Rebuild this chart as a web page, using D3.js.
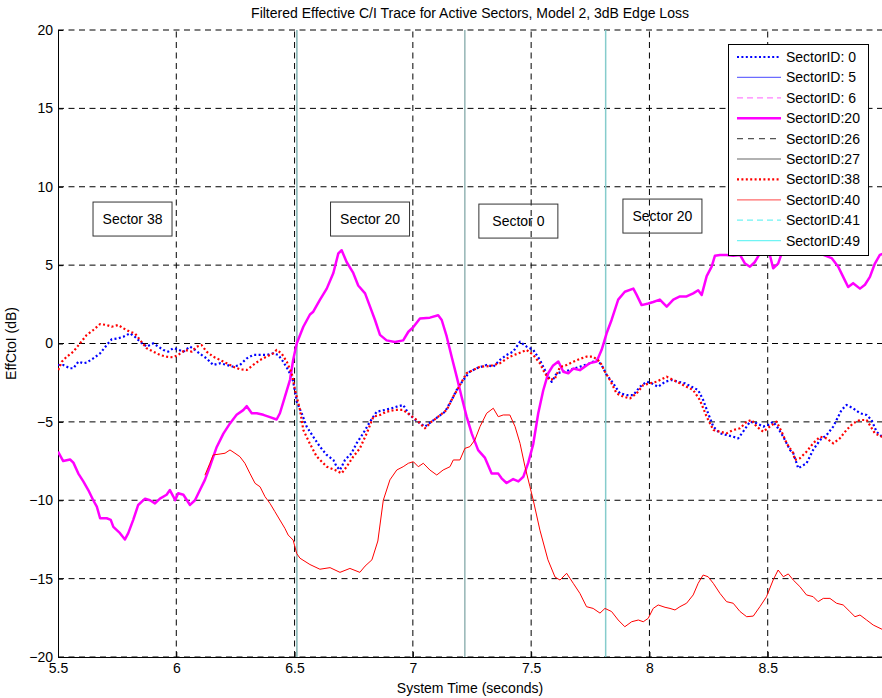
<!DOCTYPE html>
<html>
<head>
<meta charset="utf-8">
<script src="https://cdn.jsdelivr.net/npm/d3@7"></script>
<style>
  html, body { margin: 0; padding: 0; background: #fff; }
  svg { display: block; font-family: "Liberation Sans", Arial, sans-serif; }
</style>
</head>
<body>
<svg id="chart" width="882" height="698"></svg>
<script>
// Filtered effective C/I traces (dB) against system time (s)
const sector0 = [
  [5.500,-1.37],[5.522,-1.37],[5.551,-1.58],[5.565,-1.58],[5.586,-1.16],[5.607,-1.26],[5.621,-1.22],
  [5.649,-0.95],[5.678,-0.63],[5.706,-0.10],[5.727,0.27],[5.755,0.33],[5.776,0.43],[5.804,0.65],
  [5.825,0.43],[5.847,0.11],[5.875,-0.20],[5.903,0.01],[5.924,-0.20],[5.945,-0.41],[5.966,-0.52],
  [5.987,-0.30],[6.002,-0.35],[6.030,-0.52],[6.058,-0.20],[6.079,-0.41],[6.107,-0.73],[6.128,-0.95],
  [6.156,-1.37],[6.185,-1.26],[6.213,-1.37],[6.241,-1.48],[6.269,-1.37],[6.298,-0.95],[6.325,-0.73],
  [6.354,-0.73],[6.382,-0.73],[6.410,-0.63],[6.431,-0.73],[6.452,-1.16],[6.473,-1.69],[6.494,-2.40],
  [6.509,-3.70],[6.530,-4.45],[6.551,-5.30],[6.579,-5.95],[6.607,-6.58],[6.636,-7.11],[6.664,-7.43],
  [6.678,-7.86],[6.692,-8.07],[6.713,-7.43],[6.741,-7.00],[6.762,-6.37],[6.790,-5.73],[6.819,-4.99],
  [6.847,-4.35],[6.882,-4.24],[6.910,-4.13],[6.932,-4.03],[6.959,-3.92],[6.981,-4.45],[7.002,-4.77],
  [7.030,-5.09],[7.051,-5.30],[7.079,-4.99],[7.107,-4.67],[7.136,-4.35],[7.164,-3.60],[7.185,-2.97],
  [7.213,-2.33],[7.241,-1.80],[7.270,-1.58],[7.312,-1.37],[7.340,-1.48],[7.368,-1.05],[7.396,-0.73],
  [7.424,-0.52],[7.453,0.11],[7.481,-0.20],[7.509,-0.41],[7.537,-1.05],[7.558,-1.69],[7.572,-2.12],
  [7.587,-2.44],[7.608,-1.90],[7.636,-1.80],[7.664,-1.69],[7.706,-1.48],[7.749,-1.26],[7.777,-1.05],
  [7.798,-1.37],[7.819,-2.00],[7.847,-2.54],[7.875,-3.18],[7.904,-3.29],[7.932,-3.29],[7.960,-2.76],
  [7.988,-2.44],[8.009,-2.54],[8.037,-2.76],[8.066,-2.44],[8.094,-2.33],[8.122,-2.44],[8.150,-2.54],
  [8.178,-2.76],[8.206,-2.97],[8.227,-3.60],[8.248,-4.45],[8.270,-5.30],[8.298,-5.73],[8.326,-5.84],
  [8.354,-5.95],[8.375,-6.05],[8.396,-5.63],[8.425,-4.99],[8.453,-5.09],[8.481,-5.30],[8.502,-5.20],
  [8.523,-4.99],[8.544,-5.41],[8.566,-5.95],[8.594,-6.79],[8.608,-7.00],[8.629,-7.96],[8.664,-7.64],
  [8.692,-6.79],[8.721,-6.16],[8.749,-5.84],[8.777,-5.30],[8.791,-4.88],[8.812,-4.24],[8.833,-3.92],
  [8.861,-4.13],[8.890,-4.45],[8.918,-4.56],[8.939,-4.88],[8.960,-5.63],[8.983,-5.95],[9.000,-6.10]
];

const sector20 = [
  [5.500,-6.90],[5.522,-7.50],[5.551,-7.40],[5.565,-7.60],[5.586,-8.30],[5.607,-8.80],[5.628,-9.35],
  [5.649,-10.00],[5.664,-10.40],[5.678,-11.15],[5.706,-11.15],[5.723,-11.25],[5.734,-11.70],[5.762,-12.10],
  [5.783,-12.50],[5.797,-12.10],[5.818,-11.25],[5.839,-10.30],[5.868,-9.90],[5.889,-10.00],[5.910,-10.20],
  [5.931,-9.90],[5.959,-9.65],[5.973,-9.35],[5.987,-9.75],[5.995,-10.00],[6.008,-9.55],[6.030,-9.65],
  [6.058,-10.30],[6.079,-10.00],[6.100,-9.35],[6.121,-8.70],[6.142,-7.85],[6.171,-6.60],[6.199,-5.75],
  [6.227,-5.10],[6.255,-4.55],[6.283,-4.25],[6.298,-4.00],[6.319,-4.45],[6.340,-4.45],[6.368,-4.55],
  [6.396,-4.70],[6.424,-4.85],[6.438,-4.45],[6.459,-3.40],[6.481,-2.30],[6.494,-1.05],[6.509,0.00],
  [6.537,1.07],[6.565,1.85],[6.579,2.03],[6.607,2.78],[6.636,3.50],[6.664,4.50],[6.685,5.75],
  [6.699,5.95],[6.720,5.20],[6.748,4.50],[6.769,3.70],[6.798,3.20],[6.819,2.35],[6.840,1.50],
  [6.861,0.55],[6.889,0.20],[6.924,0.10],[6.959,0.20],[6.981,0.75],[7.002,1.05],[7.030,1.60],
  [7.072,1.65],[7.107,1.80],[7.122,1.50],[7.143,0.45],[7.164,-0.85],[7.185,-2.10],[7.206,-3.40],
  [7.227,-4.65],[7.249,-5.75],[7.276,-6.80],[7.305,-7.30],[7.333,-8.30],[7.361,-8.30],[7.375,-8.60],
  [7.396,-8.90],[7.424,-8.65],[7.446,-8.80],[7.467,-8.50],[7.488,-7.60],[7.509,-6.40],[7.530,-4.45],
  [7.551,-3.00],[7.572,-1.90],[7.593,-1.40],[7.615,-1.15],[7.636,-1.80],[7.657,-1.90],[7.678,-1.60],
  [7.706,-1.70],[7.749,-1.25],[7.777,-1.15],[7.798,-0.40],[7.819,0.65],[7.840,1.50],[7.868,2.80],
  [7.896,3.30],[7.932,3.50],[7.946,3.10],[7.967,2.45],[7.995,2.55],[8.016,2.65],[8.044,2.80],
  [8.073,2.35],[8.101,2.80],[8.129,3.00],[8.157,3.00],[8.185,3.20],[8.206,3.40],[8.221,3.10],
  [8.242,4.30],[8.263,4.90],[8.277,5.60],[8.298,5.65],[8.326,5.65],[8.354,5.60],[8.383,5.65],
  [8.404,5.10],[8.425,4.90],[8.446,5.20],[8.467,5.75],[8.488,5.85],[8.509,5.65],[8.523,4.80],
  [8.544,5.10],[8.559,5.75],[8.594,6.20],[8.636,6.40],[8.678,6.10],[8.735,5.65],[8.770,5.45],
  [8.798,4.90],[8.819,4.25],[8.840,3.60],[8.861,3.85],[8.890,3.50],[8.911,3.75],[8.932,4.25],
  [8.953,5.10],[8.974,5.65],[9.000,5.80]
];

const sector38 = [
  [5.501,-1.69],[5.516,-1.16],[5.537,-0.84],[5.565,-0.52],[5.593,0.01],[5.621,0.54],[5.649,0.86],
  [5.678,1.24],[5.706,1.18],[5.727,1.07],[5.755,1.18],[5.776,0.97],[5.804,0.75],[5.825,0.65],
  [5.847,0.22],[5.875,-0.31],[5.903,-0.52],[5.931,-0.73],[5.959,-0.84],[5.987,-0.88],[6.008,-0.73],
  [6.037,-0.41],[6.065,-0.52],[6.086,-0.20],[6.107,-0.10],[6.128,-0.52],[6.156,-0.84],[6.185,-1.05],
  [6.213,-1.26],[6.241,-1.48],[6.269,-1.65],[6.298,-1.69],[6.325,-1.37],[6.354,-1.05],[6.382,-0.84],
  [6.410,-0.63],[6.424,-0.41],[6.445,-0.63],[6.467,-1.16],[6.488,-1.90],[6.502,-2.97],[6.523,-4.24],
  [6.537,-5.52],[6.565,-6.40],[6.593,-7.20],[6.636,-7.86],[6.671,-8.07],[6.699,-8.28],[6.720,-7.86],
  [6.748,-7.22],[6.776,-6.69],[6.805,-5.73],[6.833,-4.67],[6.861,-4.56],[6.889,-4.35],[6.924,-4.24],
  [6.959,-4.24],[6.988,-4.56],[7.016,-4.88],[7.051,-5.41],[7.079,-4.99],[7.107,-4.67],[7.143,-4.24],
  [7.171,-3.39],[7.199,-2.65],[7.227,-1.90],[7.255,-1.69],[7.284,-1.48],[7.326,-1.44],[7.368,-1.26],
  [7.410,-0.84],[7.446,-0.63],[7.481,-0.41],[7.509,-0.73],[7.537,-1.26],[7.558,-1.90],[7.579,-2.33],
  [7.601,-2.22],[7.622,-1.50],[7.650,-1.37],[7.678,-1.16],[7.706,-0.98],[7.734,-0.84],[7.762,-0.84],
  [7.791,-1.16],[7.812,-1.80],[7.833,-2.33],[7.861,-3.18],[7.889,-3.39],[7.918,-3.50],[7.946,-3.18],
  [7.974,-2.65],[8.002,-2.54],[8.030,-2.44],[8.073,-2.12],[8.101,-2.33],[8.129,-2.54],[8.157,-2.76],
  [8.185,-2.97],[8.213,-3.60],[8.242,-4.67],[8.270,-5.52],[8.298,-5.63],[8.326,-5.73],[8.354,-5.52],
  [8.383,-5.41],[8.411,-4.99],[8.432,-4.88],[8.453,-5.30],[8.481,-5.63],[8.509,-5.30],[8.537,-4.99],
  [8.559,-5.63],[8.580,-6.37],[8.608,-7.00],[8.615,-7.43],[8.636,-7.32],[8.664,-6.90],[8.692,-6.37],
  [8.721,-5.95],[8.749,-6.05],[8.777,-6.37],[8.805,-6.05],[8.833,-5.52],[8.861,-5.09],[8.890,-4.88],
  [8.918,-4.88],[8.953,-5.73],[8.983,-5.95],[9.000,-6.00]
];

const sector40 = [
  [6.121,-8.40],[6.142,-7.64],[6.156,-7.11],[6.185,-7.05],[6.206,-7.00],[6.227,-6.79],[6.248,-7.00],
  [6.269,-7.22],[6.290,-7.64],[6.311,-8.28],[6.333,-8.92],[6.354,-9.14],[6.375,-9.77],[6.396,-10.20],
  [6.417,-10.73],[6.438,-11.26],[6.459,-11.79],[6.473,-12.22],[6.494,-12.54],[6.509,-13.40],[6.523,-13.70],
  [6.565,-14.10],[6.607,-14.40],[6.650,-14.30],[6.692,-14.60],[6.734,-14.35],[6.776,-14.60],[6.798,-14.20],
  [6.827,-13.80],[6.852,-12.60],[6.875,-10.00],[6.903,-8.70],[6.932,-8.07],[6.959,-7.86],[6.981,-7.64],
  [7.002,-7.54],[7.023,-7.86],[7.044,-7.64],[7.072,-8.07],[7.101,-8.39],[7.128,-8.07],[7.157,-7.86],
  [7.171,-7.43],[7.199,-7.43],[7.220,-6.69],[7.241,-6.58],[7.262,-6.16],[7.284,-5.30],[7.312,-4.45],
  [7.340,-4.13],[7.361,-4.67],[7.382,-4.56],[7.410,-4.56],[7.432,-5.30],[7.453,-6.37],[7.474,-7.86],
  [7.495,-9.14],[7.509,-10.00],[7.537,-11.90],[7.571,-13.80],[7.601,-14.90],[7.622,-15.09],[7.650,-14.66],
  [7.678,-15.30],[7.706,-15.94],[7.734,-16.79],[7.762,-16.90],[7.791,-17.20],[7.812,-16.90],[7.840,-17.10],
  [7.868,-17.64],[7.896,-18.07],[7.925,-17.75],[7.953,-17.64],[7.974,-17.75],[7.995,-17.53],[8.016,-16.90],
  [8.037,-16.68],[8.066,-16.83],[8.087,-16.90],[8.108,-17.00],[8.129,-16.79],[8.157,-16.57],[8.185,-16.04],
  [8.206,-15.30],[8.227,-14.77],[8.248,-14.88],[8.270,-15.30],[8.298,-15.94],[8.326,-16.47],[8.354,-16.57],
  [8.383,-17.10],[8.411,-17.43],[8.439,-17.39],[8.467,-16.79],[8.495,-16.15],[8.523,-15.09],[8.544,-14.45],
  [8.566,-14.88],[8.587,-14.70],[8.608,-15.09],[8.636,-15.51],[8.664,-16.04],[8.692,-16.15],[8.713,-16.47],
  [8.735,-16.26],[8.763,-16.26],[8.791,-16.57],[8.819,-16.68],[8.847,-17.10],[8.869,-17.43],[8.890,-17.32],
  [8.918,-17.64],[8.946,-17.96],[8.983,-18.23],[9.000,-18.30]
];

// Serving-sector change instants (s) and their marker colours
const handoffTimes = [6.510, 7.220, 7.815];
const handoffColors = ["#458c8c", "#5f8f8f", "#86cccc"];

// Serving-sector labels: text, centre time (s), centre level (dB)
const noteTexts = ["Sector 38", "Sector 20", "Sector 0", "Sector 20"];
const noteTimes = [5.815, 6.819, 7.446, 8.055];
const noteLevels = [7.94, 7.94, 7.81, 8.13];

const xTicks = [5.5, 6, 6.5, 7, 7.5, 8, 8.5];
const yTicks = [-20, -15, -10, -5, 0, 5, 10, 15, 20];

const legendNames = ["SectorID: 0", "SectorID: 5", "SectorID: 6", "SectorID:20", "SectorID:26",
                     "SectorID:27", "SectorID:38", "SectorID:40", "SectorID:41", "SectorID:49"];

// Line styles per legend entry
const legendStyles = [
  { color: "#0000ff", width: 2.2, dash: "2,2.4" },
  { color: "#6c6cff", width: 1.2, dash: null },
  { color: "#ff80ff", width: 1.2, dash: "6,4" },
  { color: "#ff00ff", width: 2.5, dash: null },
  { color: "#555555", width: 1.2, dash: "6,5" },
  { color: "#666666", width: 1.2, dash: null },
  { color: "#ff0000", width: 2.2, dash: "2,2.4" },
  { color: "#ff6a6a", width: 1.2, dash: null },
  { color: "#6ff4f4", width: 1.2, dash: "6,4" },
  { color: "#6ff4f4", width: 1.2, dash: null }
];

const FONT = 14;

const svg = d3.select("#chart");
const plotLeft = 58, plotTop = 30, plotRight = 886, plotBottom = 657;

const x = d3.scaleLinear().domain([5.5, 9.0]).range([plotLeft, plotRight]);
const y = d3.scaleLinear().domain([-20, 20]).range([plotBottom, plotTop]);

svg.append("defs").append("clipPath").attr("id", "plotClip")
  .append("rect").attr("x", plotLeft).attr("y", plotTop - 2)
  .attr("width", plotRight - plotLeft).attr("height", plotBottom - plotTop + 4);

// Grid
const grid = svg.append("g").attr("stroke", "#000").attr("stroke-width", 1)
  .attr("stroke-dasharray", "6,4.5").attr("fill", "none");
grid.selectAll("line.gx").data(xTicks.slice(1)).join("line").attr("class", "gx")
  .attr("x1", d => x(d)).attr("x2", d => x(d)).attr("y1", plotBottom).attr("y2", plotTop);
grid.selectAll("line.gy").data(yTicks).join("line").attr("class", "gy")
  .attr("x1", plotLeft).attr("x2", plotRight).attr("y1", d => y(d)).attr("y2", d => y(d));

// Axes (inward ticks, no outer end stubs)
const xAxis = d3.axisBottom(x).tickValues(xTicks).tickSizeInner(-5).tickSizeOuter(0)
  .tickPadding(6).tickFormat(d3.format("~g"));
const yAxis = d3.axisLeft(y).tickValues(yTicks).tickSizeInner(-5).tickSizeOuter(0)
  .tickPadding(5).tickFormat(d3.format("~g"));

const gx = svg.append("g").attr("transform", `translate(0,${plotBottom})`).call(xAxis);
const gy = svg.append("g").attr("transform", `translate(${plotLeft},0)`).call(yAxis);
[gx, gy].forEach(g => {
  g.select(".domain").attr("stroke", "#000").attr("stroke-width", 1);
  g.selectAll(".tick line").attr("stroke", "#000");
  g.selectAll("text").attr("font-size", FONT).attr("fill", "#000")
    .attr("font-family", "'Liberation Sans', Arial, sans-serif");
});

// Sector-change markers
const plot = svg.append("g").attr("clip-path", "url(#plotClip)");
plot.selectAll("line.handoff").data(handoffTimes).join("line").attr("class", "handoff")
  .attr("x1", d => x(d)).attr("x2", d => x(d)).attr("y1", plotTop).attr("y2", plotBottom)
  .attr("stroke", (d, i) => handoffColors[i]).attr("stroke-width", (d, i) => i === 2 ? 1.5 : 1);

// Traces
const line = d3.line().x(d => x(d[0])).y(d => y(d[1]));
const traces = [
  { data: sector0, style: legendStyles[0] },
  { data: sector20, style: legendStyles[3] },
  { data: sector38, style: legendStyles[6] },
  { data: sector40, style: { color: "#ff0000", width: 1, dash: null } }
];
traces.forEach(t => {
  plot.append("path").datum(t.data).attr("d", line).attr("fill", "none")
    .attr("stroke", t.style.color).attr("stroke-width", t.style.width)
    .attr("stroke-dasharray", t.style.dash).attr("stroke-linejoin", "round");
});

// Sector labels
const noteW = 79, noteH = 34;
const notes = svg.append("g");
noteTexts.forEach((txt, i) => {
  const cx = x(noteTimes[i]), cy = y(noteLevels[i]);
  notes.append("rect").attr("x", cx - noteW / 2).attr("y", cy - noteH / 2)
    .attr("width", noteW).attr("height", noteH).attr("fill", "none")
    .attr("stroke", "#333").attr("stroke-width", 1);
  notes.append("text").attr("x", cx).attr("y", cy + 5).attr("text-anchor", "middle")
    .attr("font-size", FONT).text(txt);
});

// Legend
const lg = svg.append("g");
const lgX = 728, lgY = 44, lgW = 140, lgH = 211, rowH = 20.4;
lg.append("rect").attr("x", lgX + 0.5).attr("y", lgY + 0.5).attr("width", lgW).attr("height", lgH)
  .attr("fill", "#fff").attr("stroke", "#000").attr("stroke-width", 1);
legendNames.forEach((name, i) => {
  const yy = lgY + 13 + i * rowH;
  const s = legendStyles[i];
  lg.append("line").attr("x1", lgX + 9).attr("x2", lgX + 53).attr("y1", yy).attr("y2", yy)
    .attr("stroke", s.color).attr("stroke-width", s.width).attr("stroke-dasharray", s.dash);
  lg.append("text").attr("x", lgX + 58).attr("y", yy + 5).attr("font-size", FONT).text(name);
});

// Titles
svg.append("text").attr("x", 470).attr("y", 18).attr("text-anchor", "middle")
  .attr("font-size", FONT).text("Filtered Effective C/I Trace for Active Sectors, Model 2, 3dB Edge Loss");
svg.append("text").attr("x", 470).attr("y", 693).attr("text-anchor", "middle")
  .attr("font-size", FONT).text("System Time (seconds)");
svg.append("text").attr("transform", `translate(16,${(plotTop + plotBottom) / 2}) rotate(-90)`)
  .attr("text-anchor", "middle").attr("font-size", FONT).text("EffCtoI (dB)");
</script>
</body>
</html>
